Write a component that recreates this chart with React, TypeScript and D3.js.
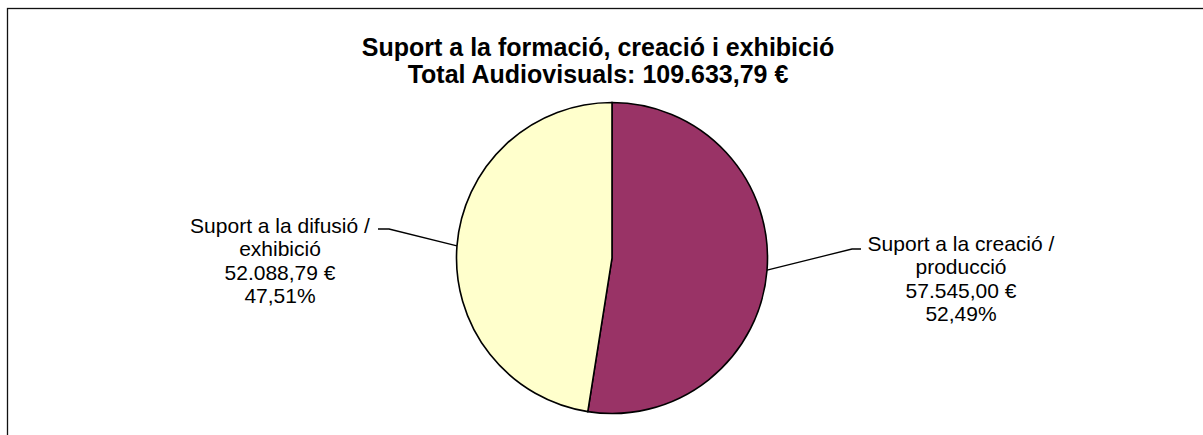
import React from "react";
import * as d3 from "d3";

const titleLines = ["Suport a la formació, creació i exhibició", "Total Audiovisuals: 109.633,79 €"];
const categories = ["Suport a la creació / producció", "Suport a la difusió / exhibició"];
const values = [57545.0, 52088.79];
const valueLabels = ["57.545,00 €", "52.088,79 €"];
const percentLabels = ["52,49%", "47,51%"];
const labelLines = [
  ["Suport a la creació /", "producció"],
  ["Suport a la difusió /", "exhibició"],
];
const colors = ["#993366", "#FFFFCC"];

const W = 1203;
const H = 435;
const cx = 612;
const cy = 258;
const R = 155.5;

// layout of label blocks (center x, first line baseline y) and leader end points
const labelLayout = [
  { x: 961, y: 250.5, elbow: [852, 249], end: [861, 249] },
  { x: 280, y: 232.5, elbow: [389, 229], end: [378, 229] },
];

export default function App() {
  const pie = d3.pie<number>().sort(null).startAngle(0).endAngle(2 * Math.PI);
  const arcs = pie(values);
  const arc = d3.arc<d3.PieArcDatum<number>>().innerRadius(0).outerRadius(R);
  const lineH = 23.5;
  return (
    <svg width={W} height={H} style={{ position: "absolute", left: 0, top: 0 }} fontFamily="'Liberation Sans', Arial, sans-serif">
      <rect x={0} y={0} width={W} height={H} fill="#fff" />
      <rect x={7.5} y={8.5} width={1200} height={500} fill="none" stroke="#111" strokeWidth={1.3} />
      {titleLines.map((t, i) => (
        <text key={i} x={598} y={56 + i * 27} textAnchor="middle" fontWeight="bold" fontSize={25} fill="#000">
          {t}
        </text>
      ))}
      <g transform={`translate(${cx},${cy})`}>
        {arcs.map((a, i) => (
          <path key={i} d={arc(a) || ""} fill={colors[i]} stroke="#000" strokeWidth={1.6} />
        ))}
      </g>
      {arcs.map((a, i) => {
        const mid = (a.startAngle + a.endAngle) / 2;
        const px = cx + Math.sin(mid) * R;
        const py = cy - Math.cos(mid) * R;
        const L = labelLayout[i];
        const lines = [...labelLines[i], valueLabels[i], percentLabels[i]];
        return (
          <g key={i}>
            <polyline
              points={`${px},${py} ${L.elbow[0]},${L.elbow[1]} ${L.end[0]},${L.end[1]}`}
              fill="none"
              stroke="#000"
              strokeWidth={1.3}
            />
            {lines.map((t, j) => (
              <text key={j} x={L.x} y={L.y + j * lineH} textAnchor="middle" fontSize={21} fill="#000">
                {t}
              </text>
            ))}
          </g>
        );
      })}
    </svg>
  );
}
